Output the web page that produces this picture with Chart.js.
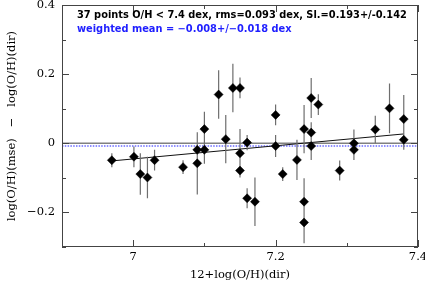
<!DOCTYPE html>
<html>
<head>
<meta charset="utf-8">
<script src="https://cdn.jsdelivr.net/npm/chart.js@4.4.1/dist/chart.umd.min.js"></script>
<style>
html, body { margin: 0; padding: 0; background: #fff; }
canvas { display: block; }
</style>
</head>
<body>
<canvas id="chart" width="425" height="284"></canvas>
<script>
// 12+log(O/H) direct method (x) and log(O/H)(mse) - log(O/H)(dir) (y)
const ohDir = [6.970, 7.001, 7.010, 7.020, 7.030, 7.070, 7.090, 7.090, 7.100, 7.100,
               7.120, 7.130, 7.140, 7.150, 7.150, 7.150, 7.160, 7.160, 7.171, 7.200,
               7.200, 7.210, 7.230, 7.240, 7.240, 7.240, 7.250, 7.250, 7.250, 7.260,
               7.290, 7.310, 7.310, 7.340, 7.360, 7.380, 7.380];
const dOH = [-0.049, -0.039, -0.089, -0.099, -0.049, -0.069, -0.019, -0.058, 0.041, -0.019,
             0.141, 0.012, 0.160, 0.160, -0.029, -0.079, 0.002, -0.159, -0.169, 0.082,
             -0.008, -0.089, -0.048, 0.041, -0.169, -0.229, 0.131, 0.031, -0.008, 0.112,
             -0.079, 0.000, -0.019, 0.040, 0.101, 0.070, 0.010];
const dErr = [0.020, 0.030, 0.060, 0.060, 0.030, 0.020, 0.030, 0.090, 0.050, 0.040,
              0.070, 0.070, 0.070, 0.030, 0.070, 0.020, 0.022, 0.029, 0.070, 0.030,
              0.032, 0.020, 0.058, 0.070, 0.068, 0.060, 0.058, 0.030, 0.040, 0.030,
              0.029, 0.040, 0.029, 0.040, 0.072, 0.070, 0.029];

// linear fit and weighted mean
const fitX = [6.97, 7.38];
const fitY = [-0.051, 0.027];
const meanOffset = -0.008;

const xTicks = [7.0, 7.2, 7.4];
const xMinorTicks = [6.9, 7.1, 7.3];
const yTicks = [-0.2, 0, 0.2, 0.4];
const yMinorTicks = [-0.3, -0.1, 0.1, 0.3];

const noteLines = [
    '37 points O/H < 7.4 dex, rms=0.093 dex, Sl.=0.193+/-0.142',
    'weighted mean = \u22120.008+/\u22120.018 dex'
];
const noteColors = ['#000000', '#1f1fff'];

const serif = "'DejaVu Serif', serif";

// error bars as broken line segments
const errData = [];
ohDir.forEach((x, i) => {
    errData.push({ x: x, y: dOH[i] - dErr[i] });
    errData.push({ x: x, y: dOH[i] + dErr[i] });
    errData.push({ x: x, y: null });
});

function noPad(s) {
    s.paddingTop = 0; s.paddingBottom = 0;
    s.paddingLeft = 0; s.paddingRight = 0;
}

const frameAndNotes = {
    id: 'frameAndNotes',
    afterDatasetsDraw(chart) {
        const ctx = chart.ctx;
        const a = chart.chartArea;
        const xs = chart.scales.x, ys = chart.scales.y;
        ctx.save();
        ctx.strokeStyle = '#444';
        ctx.lineWidth = 1;
        ctx.strokeRect(a.left + 0.5, a.top + 0.5, a.right - a.left - 1, a.bottom - a.top - 1);

        ctx.beginPath();
        function xt(v, len) {
            const p = Math.round(xs.getPixelForValue(v)) + 0.5;
            ctx.moveTo(p, a.bottom); ctx.lineTo(p, a.bottom - len);
            ctx.moveTo(p, a.top); ctx.lineTo(p, a.top + len);
        }
        function yt(v, len) {
            const p = Math.round(ys.getPixelForValue(v)) + 0.5;
            ctx.moveTo(a.left, p); ctx.lineTo(a.left + len, p);
            ctx.moveTo(a.right, p); ctx.lineTo(a.right - len, p);
        }
        xTicks.forEach(v => xt(v, 7));
        xMinorTicks.forEach(v => xt(v, 4));
        yTicks.forEach(v => yt(v, 7));
        yMinorTicks.forEach(v => yt(v, 4));
        ctx.stroke();

        // annotation text
        ctx.font = "bold 10px 'DejaVu Sans'";
        const w = ctx.measureText(noteLines[0]).width;
        const size = 10 * 330 / w;
        ctx.font = 'bold ' + size.toFixed(2) + "px 'DejaVu Sans'";
        ctx.textBaseline = 'alphabetic';
        ctx.textAlign = 'left';
        noteLines.forEach((t, i) => {
            ctx.fillStyle = noteColors[i];
            ctx.fillText(t, a.left + 15, a.top + 12.5 + i * 14.5);
        });
        ctx.restore();
    }
};

new Chart(document.getElementById('chart'), {
    type: 'scatter',
    data: {
        datasets: [
            {
                data: ohDir.map((x, i) => ({ x: x, y: dOH[i] })),
                pointStyle: 'rectRot',
                pointRadius: 4.5,
                backgroundColor: '#000',
                borderColor: '#000',
                borderWidth: 0.5,
                order: 0
            },
            {
                type: 'line',
                data: errData,
                borderColor: '#6e6e6e',
                borderWidth: 1.2,
                pointRadius: 0,
                spanGaps: false,
                order: 1
            },
            {
                type: 'line',
                data: fitX.map((x, i) => ({ x: x, y: fitY[i] })),
                borderColor: '#111',
                borderWidth: 1,
                pointRadius: 0,
                order: 2
            },
            {
                type: 'line',
                data: [{ x: 6.9, y: 0 }, { x: 7.4, y: 0 }],
                borderColor: '#808080',
                borderWidth: 1.4,
                pointRadius: 0,
                order: 3
            },
            {
                type: 'line',
                data: [{ x: 6.9, y: meanOffset }, { x: 7.4, y: meanOffset }],
                borderColor: '#6a6aff',
                borderWidth: 1.4,
                borderDash: [1.5, 1.3],
                pointRadius: 0,
                order: 4
            }
        ]
    },
    options: {
        responsive: false,
        animation: false,
        layout: { padding: { left: 0, right: 7, top: 5, bottom: 0 } },
        plugins: { legend: { display: false }, tooltip: { enabled: false } },
        scales: {
            x: {
                type: 'linear',
                min: 6.9,
                max: 7.4,
                afterFit: s => { s.height = 37; noPad(s); },
                afterBuildTicks: s => { s.ticks = xTicks.map(v => ({ value: v })); },
                grid: { display: false, drawTicks: false },
                border: { display: false },
                ticks: {
                    padding: 3,
                    color: '#000',
                    font: { family: serif, size: 11.5 },
                    callback: v => String(v)
                },
                title: {
                    display: true,
                    text: '12+log(O/H)(dir)',
                    color: '#000',
                    font: { family: serif, size: 11.5 },
                    padding: { top: 0, bottom: 2 }
                }
            },
            y: {
                type: 'linear',
                min: -0.3,
                max: 0.4,
                afterFit: s => { s.width = 62; noPad(s); },
                afterBuildTicks: s => { s.ticks = yTicks.map(v => ({ value: v })); },
                grid: { display: false, drawTicks: false },
                border: { display: false },
                ticks: {
                    padding: 7,
                    color: '#000',
                    font: { family: serif, size: 11.5 },
                    callback: v => (v < 0 ? '\u2212' + String(-v) : String(v))
                },
                title: {
                    display: true,
                    text: 'log(O/H)(mse)   \u2212   log(O/H)(dir)',
                    color: '#000',
                    font: { family: serif, size: 11.5 },
                    padding: { top: 5, bottom: 0 }
                }
            }
        }
    },
    plugins: [frameAndNotes]
});
</script>
</body>
</html>
